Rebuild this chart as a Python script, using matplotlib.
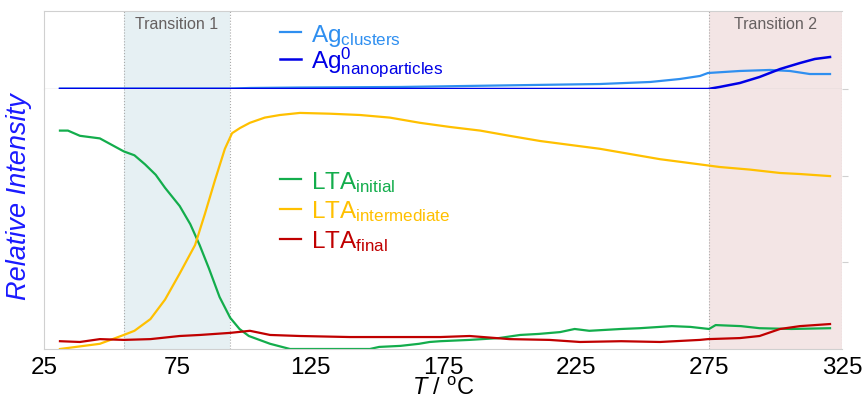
import matplotlib
matplotlib.use("Agg")
import matplotlib.pyplot as plt

plt.rcParams['font.family'] = ['Liberation Sans', 'DejaVu Sans']
plt.rcParams['mathtext.fontset'] = 'custom'
plt.rcParams['mathtext.rm'] = 'Liberation Sans'
plt.rcParams['mathtext.it'] = 'Liberation Sans:italic'

# LTA phases (lower panel)
t_initial = [31, 34, 38.5, 46, 50.5, 55, 59, 63, 67, 70.5, 76, 80, 83.5, 87, 91, 95,
             98.5, 102, 110, 117.5, 132.5, 147.5, 151, 159, 166, 170, 174, 185, 196,
             204, 211, 219, 224.5, 230, 242, 249, 261, 268, 275, 277.5, 287, 294, 306, 320.5]
lta_initial = [0.84, 0.84, 0.82, 0.81, 0.785, 0.76, 0.745, 0.71, 0.67, 0.62, 0.55, 0.48,
               0.40, 0.31, 0.20, 0.12, 0.077, 0.05, 0.02, 0.0, 0.0, 0.0, 0.008, 0.012,
               0.02, 0.027, 0.03, 0.035, 0.042, 0.054, 0.058, 0.065, 0.077, 0.07, 0.077,
               0.08, 0.088, 0.085, 0.077, 0.092, 0.088, 0.08, 0.077, 0.08]

t_inter = [31, 46, 55, 59, 65, 70.5, 76, 81.8, 85.5, 89.3, 93, 95.7, 98.7, 102.4, 108,
           113.7, 121.2, 132.5, 143.8, 155, 166.3, 177.6, 189, 200, 211.5, 222.7, 234,
           245.3, 256.6, 271.6, 279, 290.4, 301.7, 309.2, 320.5]
lta_inter = [0.0, 0.02, 0.054, 0.07, 0.115, 0.19, 0.29, 0.40, 0.52, 0.65, 0.77, 0.83,
             0.85, 0.87, 0.89, 0.90, 0.908, 0.905, 0.90, 0.89, 0.87, 0.854, 0.84, 0.82,
             0.80, 0.785, 0.77, 0.75, 0.73, 0.71, 0.70, 0.69, 0.677, 0.673, 0.665]

t_final = [31, 38.5, 46, 55, 65, 76, 83.6, 95, 102.4, 110, 121.2, 140, 159, 174, 185,
           200, 215, 226.5, 242, 256.6, 271.6, 274.6, 286.6, 294, 301.7, 309.2, 320.5]
lta_final = [0.03, 0.027, 0.038, 0.035, 0.038, 0.05, 0.054, 0.062, 0.07, 0.054, 0.05,
             0.046, 0.046, 0.046, 0.05, 0.038, 0.035, 0.027, 0.03, 0.027, 0.035, 0.038,
             0.042, 0.05, 0.077, 0.088, 0.096]

# Ag species (upper panel)
t_ag0 = [31, 274.6, 279, 286.6, 294, 301.7, 309.2, 314.8, 320.5]
ag0 = [0.0, 0.0, 0.026, 0.077, 0.154, 0.256, 0.333, 0.385, 0.41]

t_clus = [31, 95, 102.4, 121.2, 159, 196, 234, 252.9, 264, 271.6, 274.6, 286.6, 297.9,
          305.4, 312.9, 320.5]
ag_clus = [0.006, 0.006, 0.013, 0.019, 0.026, 0.045, 0.064, 0.09, 0.128, 0.167, 0.205,
           0.231, 0.244, 0.231, 0.192, 0.192]

transitions = [(55, 95, '#e6f0f3', 'Transition 1'), (275, 325, '#f3e5e5', 'Transition 2')]
xticks = [25, 75, 125, 175, 225, 275, 325]

fig = plt.figure(figsize=(8.67, 4.02), dpi=100)
W, H = 867, 402
ax = fig.add_axes([44 / W, (H - 350) / H, 798 / W, 260 / H])
ax_top = fig.add_axes([44 / W, (H - 90) / H, 798 / W, 78 / H], sharex=ax)

grey = '#d0d0d0'
for a in (ax, ax_top):
    for x0, x1, c, _ in transitions:
        a.axvspan(x0, x1, color=c, lw=0, zorder=0)
        a.axvline(x0, color='#aaaaaa', ls=':', lw=0.8, zorder=1)
        a.axvline(x1, color='#aaaaaa', ls=':', lw=0.8, zorder=1)
    for s in a.spines.values():
        s.set_color(grey)
    a.spines['right'].set_visible(False)
    a.set_xlim(25, 325)

ax.spines['top'].set_visible(False)
ax_top.spines['bottom'].set_visible(False)
ax_top.axhline(0, color=grey, lw=1, zorder=1)
ax_top.set_ylim(0, 1)
ax.set_ylim(0, 1)

for x0, x1, c, label in transitions:
    ax_top.text((x0 + x1) / 2, 0.84, label, ha='center', va='center',
                fontsize=11.5, color='#666060')

ax.plot(t_initial, lta_initial, color='#13ad4c', lw=1.6, label=r'LTA$_{\mathrm{initial}}$')
ax.plot(t_inter, lta_inter, color='#ffc000', lw=1.6, label=r'LTA$_{\mathrm{intermediate}}$')
ax.plot(t_final, lta_final, color='#c00000', lw=1.6, label=r'LTA$_{\mathrm{final}}$')

ax_top.plot(t_clus, ag_clus, color='#2f8ff0', lw=1.6, label=r'Ag$_{\mathrm{clusters}}$')
ax_top.plot(t_ag0, ag0, color='#0000e6', lw=1.8, label=r'Ag$^{0}_{\mathrm{nanoparticles}}$')

leg = ax.legend(loc='upper left', bbox_to_anchor=(0.28, 0.74), frameon=False,
                fontsize=17.5, handlelength=0.9, handletextpad=0.4, labelspacing=0.2,
                labelcolor='linecolor', borderpad=0)
leg_top = ax_top.legend(loc='upper left', bbox_to_anchor=(0.28, 1.02), frameon=False,
                        fontsize=17.5, handlelength=0.9, handletextpad=0.4, labelspacing=-0.1,
                        labelcolor='linecolor', borderpad=0)

ax.set_xticks(xticks)
ax.tick_params(axis='x', length=0, labelsize=17.5, pad=5)
ax_top.tick_params(axis='x', length=0, labelbottom=False)
ax_top.set_yticks([])
ax.yaxis.set_ticks_position('right')
ax.set_yticks([1 / 3, 2 / 3, 1.0])
ax.tick_params(axis='y', length=4, color=grey, labelright=False, labelleft=False,
               direction='out')

ax.set_xlabel(r'$\it{T}$ / $^{\mathrm{o}}$C', fontsize=17, labelpad=-1)
fig.text(0.022, (H - 197) / H, 'Relative Intensity', rotation=90, color='#1a1aff',
         fontsize=19.5, style='italic', ha='center', va='center')

fig.savefig('out.png', dpi=100)
